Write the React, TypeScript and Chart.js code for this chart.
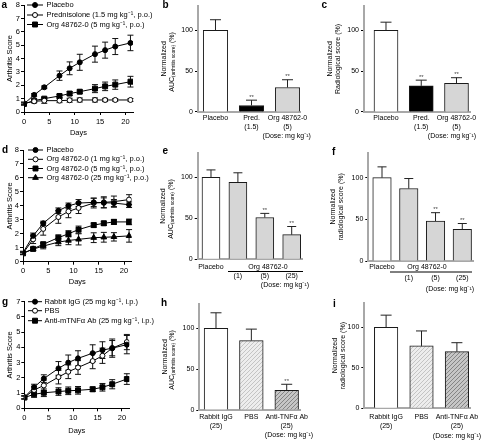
import React, { useEffect, useRef } from 'react';
import { Chart, registerables } from 'chart.js';

Chart.register(...registerables);

const FONT = "'Liberation Sans', Arial, Helvetica, sans-serif";
const CW = 500;
const CH = 441;

// ---------- shared ----------
const DAYS = [0, 2, 4, 7, 9, 11, 14, 16, 18, 21];
const DOSE = '(Dose: mg kg⁻¹)';

// ---------- panel a ----------
const A_NAMES = ['Placebo', 'Prednisolone (1.5 mg kg⁻¹, p.o.)', 'Org 48762-0 (5 mg kg⁻¹, p.o.)'];
const A_PLACEBO = [0.6, 1.28, 1.85, 2.72, 3.27, 3.72, 4.33, 4.63, 4.9, 5.17];
const A_PLACEBO_ERR = [0.08, 0.1, 0.1, 0.35, 0.48, 0.6, 0.6, 0.6, 0.6, 0.58];
const A_PRED = [0.65, 0.8, 0.85, 0.85, 0.88, 0.9, 0.9, 0.9, 0.9, 0.9];
const A_PRED_ERR = [0.1, 0.1, 0.2, 0.15, 0.15, 0.15, 0.15, 0.12, 0.1, 0.1];
const A_ORG = [0.6, 0.85, 1.0, 1.2, 1.38, 1.52, 1.75, 1.92, 2.05, 2.27];
const A_ORG_ERR = [0.08, 0.1, 0.1, 0.12, 0.15, 0.12, 0.3, 0.32, 0.35, 0.4];

// ---------- panel b ----------
const B_CATS = [['Placebo'], ['Pred.', '(1.5)'], ['Org 48762-0', '(5)']];
const B_VALUES = [100, 8, 30];
const B_ERR = [13, 6.5, 9.5];
const B_SIG = [false, true, true];

// ---------- panel c ----------
const C_CATS = [['Placebo'], ['Pred.', '(1.5)'], ['Org 48762-0', '(5)']];
const C_VALUES = [100, 32, 35];
const C_ERR = [10, 7, 7];
const C_SIG = [false, true, true];

// ---------- panel d ----------
const D_NAMES = ['Placebo', 'Org 48762-0 (1 mg kg⁻¹, p.o.)', 'Org 48762-0 (5 mg kg⁻¹, p.o.)', 'Org 48762-0 (25 mg kg⁻¹, p.o.)'];
const D_PLACEBO = [0.65, 1.85, 2.75, 3.65, 4.0, 4.2, 4.25, 4.22, 4.2, 4.08];
const D_PLACEBO_ERR = [0.1, 0.2, 0.15, 0.2, 0.2, 0.25, 0.3, 0.35, 0.25, 0.2];
const D_ORG1 = [0.6, 1.6, 2.35, 3.2, 3.6, 3.85, 4.2, 4.25, 4.3, 4.45];
const D_ORG1_ERR = [0.1, 0.3, 0.45, 0.45, 0.45, 0.4, 0.35, 0.4, 0.4, 0.35];
const D_ORG5 = [0.6, 0.92, 1.25, 1.72, 2.0, 2.3, 2.62, 2.75, 2.85, 2.85];
const D_ORG5_ERR = [0.08, 0.1, 0.15, 0.2, 0.22, 0.25, 0.15, 0.15, 0.18, 0.2];
const D_ORG25 = [0.6, 0.9, 1.12, 1.4, 1.52, 1.6, 1.72, 1.75, 1.78, 1.85];
const D_ORG25_ERR = [0.08, 0.12, 0.2, 0.25, 0.3, 0.4, 0.35, 0.35, 0.3, 0.45];

// ---------- panel e ----------
const E_CATS = [['Placebo'], ['', '(1)'], ['', '(5)'], ['', '(25)']];
const E_VALUES = [100, 94, 51, 30];
const E_ERR = [9, 11.5, 5, 10];
const E_SIG = [false, false, true, true];

// ---------- panel f ----------
const F_CATS = [['Placebo'], ['', '(1)'], ['', '(5)'], ['', '(25)']];
const F_VALUES = [100, 87, 48, 38];
const F_ERR = [13, 12, 10, 7];
const F_SIG = [false, false, true, true];

// ---------- panel g ----------
const G_NAMES = ['Rabbit IgG (25 mg kg⁻¹, i.p.)', 'PBS', 'Anti-mTNFα Ab (25 mg kg⁻¹, i.p.)'];
const G_IGG = [0.72, 1.38, 1.95, 2.62, 3.0, 3.28, 3.62, 3.82, 3.95, 4.18];
const G_IGG_ERR = [0.1, 0.2, 0.25, 0.45, 0.5, 0.5, 0.55, 0.55, 0.6, 0.6];
const G_PBS = [0.72, 1.2, 1.5, 2.05, 2.4, 2.68, 3.1, 3.45, 3.95, 4.35];
const G_PBS_ERR = [0.1, 0.25, 0.35, 0.45, 0.45, 0.45, 0.5, 0.5, 0.5, 0.5];
const G_ANTI = [0.7, 0.92, 1.02, 1.1, 1.15, 1.18, 1.25, 1.38, 1.58, 1.92];
const G_ANTI_ERR = [0.1, 0.2, 0.25, 0.25, 0.25, 0.25, 0.15, 0.25, 0.3, 0.35];

// ---------- panel h ----------
const H_CATS = [['Rabbit IgG', '(25)'], ['PBS'], ['Anti-TNFα Ab', '(25)']];
const H_VALUES = [100, 85, 24];
const H_ERR = [19, 14, 7.5];
const H_SIG = [false, false, true];

// ---------- panel i ----------
const I_CATS = [['Rabbit IgG', '(25)'], ['PBS'], ['Anti-TNFα Ab', '(25)']];
const I_VALUES = [100, 77, 70];
const I_ERR = [15, 18.5, 11];
const I_SIG = [false, false, false];

// ================= drawing helpers =================
function drawMarker(ctx: CanvasRenderingContext2D, style: string, x: number, y: number, r: number, fill: string) {
  ctx.save();
  ctx.fillStyle = fill;
  ctx.strokeStyle = '#000';
  ctx.lineWidth = 1;
  ctx.beginPath();
  if (style === 'rect') {
    const s = r * Math.SQRT1_2;
    ctx.rect(x - s, y - s, 2 * s, 2 * s);
  } else if (style === 'triangle') {
    ctx.moveTo(x, y - r);
    ctx.lineTo(x - r * 0.866, y + r * 0.5);
    ctx.lineTo(x + r * 0.866, y + r * 0.5);
    ctx.closePath();
  } else {
    ctx.arc(x, y, r, 0, Math.PI * 2);
  }
  ctx.fill();
  ctx.stroke();
  ctx.restore();
}

function drawAuc(ctx: CanvasRenderingContext2D, x: number, y: number) {
  ctx.save();
  ctx.translate(x, y);
  ctx.rotate(-Math.PI / 2);
  ctx.fillStyle = '#000';
  ctx.textBaseline = 'middle';
  ctx.textAlign = 'left';
  const big = `7px ${FONT}`;
  const small = `4.8px ${FONT}`;
  ctx.font = big;
  const w1 = ctx.measureText('AUC').width;
  const w3 = ctx.measureText(' (%)').width;
  ctx.font = small;
  const w2 = ctx.measureText('(arthritis score)').width;
  let sx = -(w1 + w2 + w3) / 2;
  ctx.font = big;
  ctx.fillText('AUC', sx, 0);
  sx += w1;
  ctx.font = small;
  ctx.fillText('(arthritis score)', sx, 1.8);
  sx += w2;
  ctx.font = big;
  ctx.fillText(' (%)', sx, 0);
  ctx.restore();
}

function extras(cfg: any) {
  return {
    id: 'extras',
    beforeDatasetsDraw(chart: any) {
      if (!cfg.lineErrors) return;
      const ctx = chart.ctx;
      const ys = chart.scales.y;
      ctx.save();
      ctx.strokeStyle = '#111';
      ctx.lineWidth = 1;
      cfg.lineErrors.forEach((errs: number[], di: number) => {
        const meta = chart.getDatasetMeta(di);
        const vals = chart.data.datasets[di].data;
        meta.data.forEach((el: any, j: number) => {
          const v = vals[j].y;
          const e = errs[j];
          const x = el.x;
          const y1 = ys.getPixelForValue(v - e);
          const y2 = ys.getPixelForValue(v + e);
          const cap = 3;
          ctx.beginPath();
          ctx.moveTo(x, y1);
          ctx.lineTo(x, y2);
          ctx.moveTo(x - cap, y1);
          ctx.lineTo(x + cap, y1);
          ctx.moveTo(x - cap, y2);
          ctx.lineTo(x + cap, y2);
          ctx.stroke();
        });
      });
      ctx.restore();
    },
    afterDatasetsDraw(chart: any) {
      if (!cfg.barErrors) return;
      const ctx = chart.ctx;
      const ys = chart.scales.y;
      const meta = chart.getDatasetMeta(0);
      const vals = chart.data.datasets[0].data;
      ctx.save();
      meta.data.forEach((el: any, j: number) => {
        const v = vals[j].y;
        const top = ys.getPixelForValue(v + cfg.barErrors[j]);
        const cap = cfg.cap;
        ctx.strokeStyle = '#222';
        ctx.lineWidth = 1;
        ctx.beginPath();
        ctx.moveTo(el.x, el.y);
        ctx.lineTo(el.x, top);
        ctx.moveTo(el.x - cap, top);
        ctx.lineTo(el.x + cap, top);
        ctx.stroke();
        if (cfg.sig && cfg.sig[j]) {
          ctx.fillStyle = '#444';
          ctx.font = `6px ${FONT}`;
          ctx.textAlign = 'center';
          ctx.textBaseline = 'middle';
          ctx.fillText('**', el.x, top - 3);
        }
      });
      ctx.restore();
    },
    afterDraw(chart: any) {
      const ctx = chart.ctx;
      ctx.save();
      (cfg.texts || []).forEach((t: any) => {
        ctx.fillStyle = '#000';
        ctx.font = `${t.bold ? 'bold ' : ''}${t.size}px ${FONT}`;
        ctx.textAlign = t.align || 'left';
        ctx.textBaseline = 'middle';
        ctx.fillText(t.text, t.x, t.y);
      });
      (cfg.lines || []).forEach((l: any) => {
        ctx.strokeStyle = '#000';
        ctx.lineWidth = 1;
        ctx.beginPath();
        ctx.moveTo(l.x1, l.y);
        ctx.lineTo(l.x2, l.y);
        ctx.stroke();
      });
      if (cfg.legend) {
        const L = cfg.legend;
        L.items.forEach((it: any, k: number) => {
          const y = L.rows[k];
          ctx.strokeStyle = '#000';
          ctx.lineWidth = 1;
          ctx.beginPath();
          ctx.moveTo(L.x1, y);
          ctx.lineTo(L.x2, y);
          ctx.stroke();
          drawMarker(ctx, it.style, L.xm, y, it.radius, it.fill);
          ctx.fillStyle = '#000';
          ctx.font = `7.5px ${FONT}`;
          ctx.textAlign = 'left';
          ctx.textBaseline = 'middle';
          ctx.fillText(it.label, L.xt, y);
        });
      }
      if (cfg.auc) {
        const ys = chart.scales.y;
        drawAuc(ctx, cfg.auc.x, (ys.top + ys.bottom) / 2 + cfg.auc.dy);
      }
      ctx.restore();
    },
  };
}

function hatch(base: string, line: string) {
  const c = document.createElement('canvas');
  c.width = 4;
  c.height = 4;
  const x = c.getContext('2d')!;
  x.fillStyle = base;
  x.fillRect(0, 0, 4, 4);
  x.strokeStyle = line;
  x.lineWidth = 1;
  x.beginPath();
  x.moveTo(0, 4);
  x.lineTo(4, 0);
  x.moveTo(-1, 1);
  x.lineTo(1, -1);
  x.moveTo(3, 5);
  x.lineTo(5, 3);
  x.stroke();
  return x.createPattern(c, 'repeat');
}

// ================= builders =================
function buildLine(canvas: HTMLCanvasElement, p: any) {
  const tickFont = { family: FONT, size: 7.5, lineHeight: 1.1 };
  return new Chart(canvas, {
    type: 'line',
    data: {
      datasets: p.series.map((s: any) => ({
        label: s.label,
        data: DAYS.map((d, i) => ({ x: d, y: s.values[i] })),
        borderColor: '#000',
        borderWidth: 1,
        pointStyle: s.style,
        pointRadius: s.radius,
        pointBackgroundColor: s.fill,
        pointBorderColor: '#000',
        pointBorderWidth: 1,
        tension: 0,
        fill: false,
      })),
    },
    options: {
      animation: false,
      responsive: false,
      devicePixelRatio: 1,
      events: [],
      layout: { padding: { left: p.x0, top: p.t, right: CW - p.r, bottom: CH - p.xBottom } },
      plugins: { legend: { display: false }, tooltip: { enabled: false } },
      scales: {
        x: {
          type: 'linear',
          min: 0,
          max: p.xMax,
          afterFit: (s: any) => { s.height = p.xBottom - p.b; },
          ticks: { stepSize: 5, includeBounds: false, autoSkip: false, maxRotation: 0, padding: p.tickPad, color: '#000', font: tickFont },
          grid: { drawOnChartArea: false, drawTicks: true, tickLength: 3, color: '#000', lineWidth: 1 },
          border: { display: true, color: '#000', width: 1 },
          title: { display: true, text: 'Days', color: '#000', font: tickFont, padding: 0 },
        },
        y: {
          type: 'linear',
          min: 0,
          max: p.yMax,
          afterFit: (s: any) => { s.width = p.l - p.x0; },
          ticks: { stepSize: 1, includeBounds: false, padding: 1, color: '#000', font: tickFont },
          grid: { drawOnChartArea: false, drawTicks: true, tickLength: 3, color: '#000', lineWidth: 1 },
          border: { display: true, color: '#000', width: 1 },
          title: { display: true, text: 'Arthritis Score', color: '#000', font: tickFont, padding: 0 },
        },
      },
    } as any,
    plugins: [
      extras({
        lineErrors: p.series.map((s: any) => s.errors),
        legend: { ...p.legend, items: p.series },
        texts: [{ text: p.letter.t, x: p.letter.x, y: p.letter.y, size: 10, bold: true }],
      }),
    ],
  } as any);
}

function buildBar(canvas: HTMLCanvasElement, p: any) {
  const font7 = { family: FONT, size: 7, lineHeight: p.lh / 7 };
  const titleFont = { family: FONT, size: 7, lineHeight: 1.1 };
  return new Chart(canvas, {
    type: 'bar',
    data: {
      datasets: [
        {
          data: p.values.map((v: number, i: number) => ({ x: i, y: v })),
          backgroundColor: p.fills,
          borderColor: '#1a1a1a',
          borderWidth: 1,
          borderSkipped: 'bottom',
          barThickness: p.bw,
        },
      ],
    },
    options: {
      animation: false,
      responsive: false,
      devicePixelRatio: 1,
      events: [],
      layout: { padding: { left: p.x0, top: p.t, right: CW - p.r, bottom: CH - (p.b + 32) } },
      plugins: { legend: { display: false }, tooltip: { enabled: false } },
      scales: {
        x: {
          type: 'linear',
          offset: false,
          min: p.xMin,
          max: p.xMax,
          afterFit: (s: any) => { s.height = 32; },
          afterBuildTicks: (s: any) => { s.ticks = p.cats.map((_: any, i: number) => ({ value: i })); },
          ticks: {
            autoSkip: false,
            maxRotation: 0,
            padding: p.tickPad,
            color: '#000',
            font: font7,
            callback: (v: number) => {
              const k = Math.round(v);
              return p.cats[k] !== undefined ? p.cats[k] : '';
            },
          },
          grid: { display: false, drawTicks: false },
          border: { display: true, color: '#a8a8a8', width: 2 },
        },
        y: {
          type: 'linear',
          min: 0,
          max: 130,
          afterFit: (s: any) => { s.width = p.l - p.x0; },
          ticks: { stepSize: 50, includeBounds: false, padding: 2, color: '#000', font: { family: FONT, size: 7, lineHeight: 1.1 } },
          grid: { drawOnChartArea: false, drawTicks: true, tickLength: 3, color: '#000', lineWidth: 1 },
          border: { display: true, color: '#a8a8a8', width: 2 },
          title: { display: true, text: p.yTitle, color: '#000', font: titleFont, padding: 0 },
        },
      },
    } as any,
    plugins: [
      extras({
        barErrors: p.err,
        cap: p.cap,
        sig: p.sig,
        auc: p.auc,
        texts: [{ text: p.letter.t, x: p.letter.x, y: p.letter.y, size: 10, bold: true }, ...(p.texts || [])],
        lines: p.lines || [],
      }),
    ],
  } as any);
}

// ================= panel specs =================
function panelSpecs() {
  const GREY = '#d6d6d6';
  const light = hatch('#ededed', '#c4c4c4');
  const dark = hatch('#c6c6c6', '#858585');
  return [
    {
      kind: 'line',
      x0: 5.4, l: 24, t: 5, r: 133, b: 112, xBottom: 137.4, xMax: 21.5, yMax: 8, tickPad: 3,
      series: [
        { label: A_NAMES[0], values: A_PLACEBO, errors: A_PLACEBO_ERR, style: 'circle', fill: '#000', radius: 2.5 },
        { label: A_NAMES[1], values: A_PRED, errors: A_PRED_ERR, style: 'circle', fill: '#fff', radius: 2.5 },
        { label: A_NAMES[2], values: A_ORG, errors: A_ORG_ERR, style: 'rect', fill: '#000', radius: 3.5 },
      ],
      legend: { rows: [5, 15, 24.5], x1: 27, x2: 43, xm: 35, xt: 46.5 },
      letter: { t: 'a', x: 1.5, y: 5.5 },
    },
    {
      kind: 'bar',
      x0: 160.15, l: 198, t: 4, r: 300, b: 112, xMin: -0.486, xMax: 2.347, bw: 24.5, lh: 9, tickPad: 1.5, cap: 5.5,
      cats: B_CATS, values: B_VALUES, err: B_ERR, sig: B_SIG, fills: ['#ffffff', '#000000', GREY],
      yTitle: 'Normalized', auc: { x: 171.7, dy: 3 },
      letter: { t: 'b', x: 162.5, y: 5.5 },
      texts: [{ text: DOSE, x: 286.7, y: 136, size: 7, align: 'center' }],
    },
    {
      kind: 'bar',
      x0: 326.15, l: 364, t: 4, r: 470, b: 112, xMin: -0.624, xMax: 2.383, bw: 24, lh: 9, tickPad: 1.5, cap: 5.5,
      cats: C_CATS, values: C_VALUES, err: C_ERR, sig: C_SIG, fills: ['#ffffff', '#000000', GREY],
      yTitle: ['Normalized', 'Radiological score (%)'],
      letter: { t: 'c', x: 321.5, y: 5.5 },
      texts: [{ text: DOSE, x: 452, y: 136.5, size: 7, align: 'center' }],
    },
    {
      kind: 'line',
      x0: 5.9, l: 23, t: 150, r: 131.6, b: 261.7, xBottom: 285.8, xMax: 21.5, yMax: 8, tickPad: 2.6,
      series: [
        { label: D_NAMES[0], values: D_PLACEBO, errors: D_PLACEBO_ERR, style: 'circle', fill: '#000', radius: 2.5 },
        { label: D_NAMES[1], values: D_ORG1, errors: D_ORG1_ERR, style: 'circle', fill: '#fff', radius: 2.5 },
        { label: D_NAMES[2], values: D_ORG5, errors: D_ORG5_ERR, style: 'rect', fill: '#000', radius: 3.5 },
        { label: D_NAMES[3], values: D_ORG25, errors: D_ORG25_ERR, style: 'triangle', fill: '#000', radius: 3.3 },
      ],
      legend: { rows: [150, 159.3, 168.5, 177.7], x1: 28, x2: 43, xm: 35.5, xt: 46.5 },
      letter: { t: 'd', x: 2, y: 150.5 },
    },
    {
      kind: 'bar',
      x0: 159.15, l: 197.7, t: 152.7, r: 302, b: 259.3, xMin: -0.494, xMax: 3.383, bw: 18, lh: 9, tickPad: 3.2, cap: 4.5,
      cats: E_CATS, values: E_VALUES, err: E_ERR, sig: E_SIG, fills: ['#ffffff', GREY, GREY, GREY],
      yTitle: 'Normalized', auc: { x: 171, dy: 3 },
      letter: { t: 'e', x: 162.5, y: 151 },
      texts: [
        { text: 'Org 48762-0', x: 268, y: 267, size: 7, align: 'center' },
        { text: DOSE, x: 285, y: 285, size: 7, align: 'center' },
      ],
      lines: [{ x1: 228, x2: 303, y: 271.5 }],
    },
    {
      kind: 'bar',
      x0: 329.15, l: 368.3, t: 152.7, r: 473, b: 261, xMin: -0.512, xMax: 3.4, bw: 18.5, lh: 11, tickPad: 0.5, cap: 4.5,
      cats: F_CATS, values: F_VALUES, err: F_ERR, sig: F_SIG, fills: ['#ffffff', GREY, GREY, GREY],
      yTitle: ['Normalized', 'radiological score (%)'],
      letter: { t: 'f', x: 332, y: 152 },
      texts: [
        { text: 'Org 48762-0', x: 427, y: 267, size: 7, align: 'center' },
        { text: DOSE, x: 450, y: 289, size: 7, align: 'center' },
      ],
      lines: [{ x1: 390, x2: 472, y: 272 }],
    },
    {
      kind: 'line',
      x0: 5.9, l: 24.3, t: 301.7, r: 129.3, b: 408.3, xBottom: 435.1, xMax: 21.5, yMax: 7, tickPad: 2.9,
      series: [
        { label: G_NAMES[0], values: G_IGG, errors: G_IGG_ERR, style: 'circle', fill: '#000', radius: 2.5 },
        { label: G_NAMES[1], values: G_PBS, errors: G_PBS_ERR, style: 'circle', fill: '#fff', radius: 2.5 },
        { label: G_NAMES[2], values: G_ANTI, errors: G_ANTI_ERR, style: 'rect', fill: '#000', radius: 3.5 },
      ],
      legend: { rows: [301.7, 310.7, 320.7], x1: 28, x2: 42, xm: 35, xt: 44.5 },
      letter: { t: 'g', x: 2, y: 302.5 },
    },
    {
      kind: 'bar',
      x0: 161.15, l: 199.3, t: 303.8, r: 300, b: 410, xMin: -0.472, xMax: 2.376, bw: 23.7, lh: 9, tickPad: 2.5, cap: 5.5,
      cats: H_CATS, values: H_VALUES, err: H_ERR, sig: H_SIG, fills: ['#ffffff', light, dark],
      yTitle: 'Normalized', auc: { x: 172, dy: 3 },
      letter: { t: 'h', x: 161, y: 303.5 },
      texts: [{ text: DOSE, x: 289, y: 435, size: 7, align: 'center' }],
    },
    {
      kind: 'bar',
      x0: 331.15, l: 364.3, t: 303, r: 470, b: 408.3, xMin: -0.616, xMax: 2.37, bw: 23.5, lh: 9, tickPad: 4.5, cap: 5.5,
      cats: I_CATS, values: I_VALUES, err: I_ERR, sig: I_SIG, fills: ['#ffffff', light, dark],
      yTitle: ['Normalized', 'radiological score (%)'],
      letter: { t: 'i', x: 333, y: 304 },
      texts: [{ text: DOSE, x: 457, y: 435.7, size: 7, align: 'center' }],
    },
  ];
}

export default function App() {
  const refs = useRef<(HTMLCanvasElement | null)[]>([]);
  useEffect(() => {
    Chart.defaults.font.family = FONT;
    const specs = panelSpecs();
    const charts = specs.map((p: any, i: number) => {
      const cv = refs.current[i]!;
      return p.kind === 'line' ? buildLine(cv, p) : buildBar(cv, p);
    });
    return () => charts.forEach((c) => c.destroy());
  }, []);
  return (
    <div style={{ position: 'fixed', left: 0, top: 0, width: 481, height: 441, background: '#fff', overflow: 'hidden' }}>
      {Array.from({ length: 9 }).map((_, i) => (
        <canvas
          key={i}
          ref={(el) => { refs.current[i] = el; }}
          width={CW}
          height={CH}
          style={{ position: 'absolute', left: 0, top: 0, width: CW, height: CH }}
        />
      ))}
    </div>
  );
}
